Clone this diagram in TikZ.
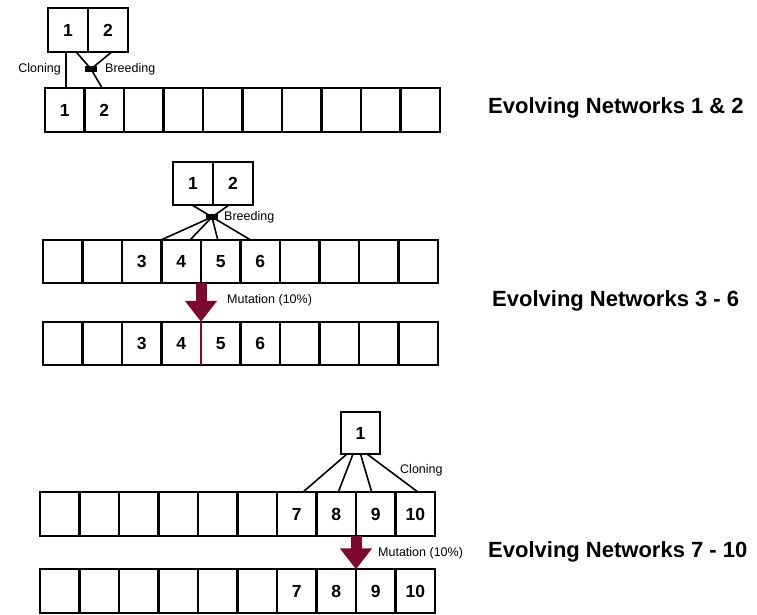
\documentclass[tikz,border=0pt]{standalone}
\usepackage{fontspec}
\setmainfont{Liberation Sans}
\usetikzlibrary{positioning,arrows.meta}
\definecolor{mutred}{RGB}{125,8,45}

\begin{document}
\begin{tikzpicture}[x=1pt, y=-1pt,
  cell/.style={draw, line width=2.3pt, minimum width=39.5pt, minimum height=43.5pt, inner sep=0pt, outer sep=0pt, font=\fontsize{17.5}{20}\selectfont\bfseries},
  pbox/.style={cell, minimum width=40pt},
  jn/.style={fill=black, minimum width=12pt, minimum height=6pt, inner sep=0pt, outer sep=0pt},
  link/.style={line width=1.6pt},
  lab/.style={font=\fontsize{12.5}{15}\selectfont, inner sep=1pt},
  big/.style={font=\fontsize{22}{26}\selectfont\bfseries, anchor=west, inner sep=0pt},
  mutarrow/.style={mutred, line width=11pt, -{Triangle[width=31pt, length=21pt]}}]
  \useasboundingbox (0,0) rectangle (757,614);
  % networks 1 & 2
  \node[pbox] (p1) at (68,30) {1};
  \node[pbox, right=0pt of p1] (p2) {2};
  \foreach \i in {1,...,10}
    \node[cell] (a\i) at (45+39.5*\i-19.75,110) {\ifnum\i<3 \i\fi};
  \node[jn] (j1) at (91,69) {};
  \draw[link] ([xshift=-2pt]p1.south) -- ([xshift=1.25pt]a1.north);
  \draw[link] ([xshift=8pt]p1.south) -- (j1.center) -- ([xshift=-2pt]a2.north);
  \draw[link] ([xshift=4pt]p2.south) -- (j1.center);
  \node[lab, anchor=east] (cl1) at (62,69) {Cloning};
  \node[lab, right=7pt of j1] (br1) {Breeding};
  % networks 3 - 6
  \node[pbox, minimum height=43pt] (q1) at (193,183.5) {1};
  \node[pbox, minimum height=43pt, right=0pt of q1] (q2) {2};
  \foreach \i in {1,...,10} {
    \node[cell] (b\i) at (43+39.5*\i-19.75,261.5) {\ifnum\i>2 \ifnum\i<7 \i\fi\fi};
    \node[cell] (c\i) at (43+39.5*\i-19.75,343.5) {\ifnum\i>2 \ifnum\i<7 \i\fi\fi};
  }
  \node[jn] (j2) at (212,217) {};
  \draw[link] ([xshift=-1pt]q1.south) -- (j2.center);
  \draw[link] ([xshift=-4pt]q2.south) -- (j2.center);
  \foreach \n/\s in {3/19.75, 4/9, 5/-3, 6/-10}
    \draw[link] (j2.center) -- ([xshift=\s pt]b\n.north);
  \node[lab, right=5pt of j2] (br2) {Breeding};
  \draw[mutarrow] (b4.south east) -- (c4.north east);
  \draw[mutred, line width=2.3pt] (c4.north east) -- (c4.south east);
  \node[lab, anchor=west] (mu1) at (226,300) {Mutation (10\%)};
  % networks 7 - 10
  \node[pbox, minimum width=39pt, minimum height=42pt] (s1) at (360.5,433) {1};
  \foreach \i in {1,...,10} {
    \node[cell] (d\i) at (40+39.5*\i-19.75,514) {\ifnum\i>6 \i\fi};
    \node[cell] (e\i) at (40+39.5*\i-19.75,591) {\ifnum\i>6 \i\fi};
  }
  \foreach \f/\n/\s in {-13.5/7/6, -7.5/8/2, 0/9/-4, 6.5/10/3}
    \draw[link] ([xshift=\f pt]s1.south) -- ([xshift=\s pt]d\n.north);
  \node[lab, anchor=west] (cl2) at (399,470) {Cloning};
  \draw[mutarrow] (d8.south east) -- (e8.north east);
  \node[lab, anchor=west] (mu2) at (377,553) {Mutation (10\%)};
  % captions
  \node[big] (t1) at (488,108) {Evolving Networks 1 \& 2};
  \node[big] (t2) at (492,301) {Evolving Networks 3 - 6};
  \node[big] (t3) at (488,552) {Evolving Networks 7 - 10};
\end{tikzpicture}
\end{document}
